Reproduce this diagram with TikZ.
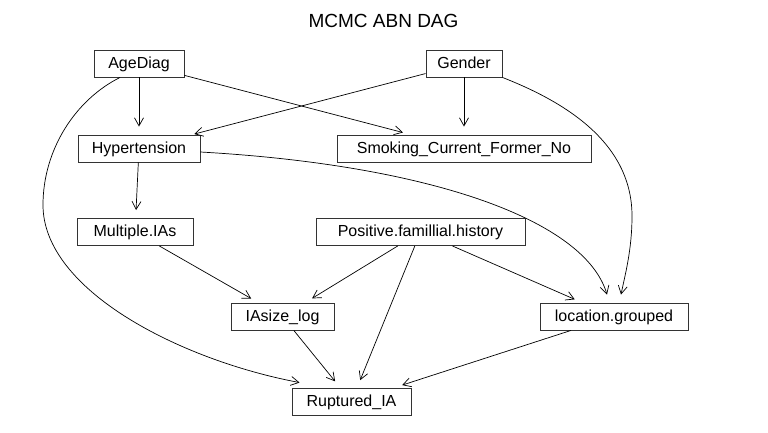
\documentclass[tikz,border=0pt]{standalone}
\usepackage{fontspec}
\setmainfont{Liberation Sans}
\usetikzlibrary{arrows.meta}
\begin{document}
\begin{tikzpicture}[x=1pt,y=-1pt,
 box/.style={draw=black!80,line width=0.9pt,rectangle,inner sep=0pt,minimum height=27pt,font=\fontsize{16}{18}\selectfont,text height=11pt,text depth=1.5pt},
 edge/.style={line width=0.7pt,-{Straight Barb[length=8pt,width=9pt]},shorten >=8pt}]
\useasboundingbox (0,0) rectangle (768,432);
\node[anchor=base,font=\fontsize{19}{22}\selectfont] (title) at (383.5,27) {MCMC ABN DAG};
\node[box,minimum width=90pt] (age) at (139,63.5) {AgeDiag};
\node[box,minimum width=76pt] (gender) at (464,63.5) {Gender};
\node[box,minimum width=122pt] (hyp) at (139,148.5) {Hypertension};
\node[box,minimum width=254pt] (smk) at (464,148.5) {Smoking\_Current\_Former\_No};
\node[box,minimum width=116pt] (mult) at (135,232) {Multiple.IAs};
\node[box,minimum width=209pt] (pos) at (420.5,232) {Positive.famillial.history};
\node[box,minimum width=103pt] (ias) at (282.5,316.5) {IAsize\_log};
\node[box,minimum width=148pt] (loc) at (614,316.5) {location.grouped};
\node[box,minimum width=119pt] (rup) at (351.5,401.5) {Ruptured\_IA};
\draw[edge] (age) -- (hyp);
\draw[edge] (age) -- (smk);
\draw[edge,shorten >=2pt] (gender) -- (hyp);
\draw[edge] (gender) -- (smk);
\draw[edge] (hyp) -- (mult);
\draw[edge] (mult) -- (ias);
\draw[edge] (pos) -- (ias);
\draw[edge] (pos) -- (rup);
\draw[edge] (pos) -- (loc);
\draw[edge] (ias) -- (rup);
\draw[edge] (loc) -- (rup);
\draw[edge,shorten >=0pt] ([xshift=-19pt]age.south) .. controls (75,100) and (43,150) .. (43,205) .. controls (43,290) and (180,360) .. ([xshift=8pt,yshift=5pt]rup.north west);
\draw[edge,shorten >=0pt] (gender.south east) .. controls (560,100) and (632,140) .. (632,216) .. controls (632,250) and (625,275) .. ([xshift=7pt,yshift=8pt]loc.north);
\draw[edge,shorten >=0pt] ([yshift=-3.5pt]hyp.east) .. controls (430,165) and (585,220) .. ([xshift=-7pt,yshift=8pt]loc.north);
\end{tikzpicture}
\end{document}
